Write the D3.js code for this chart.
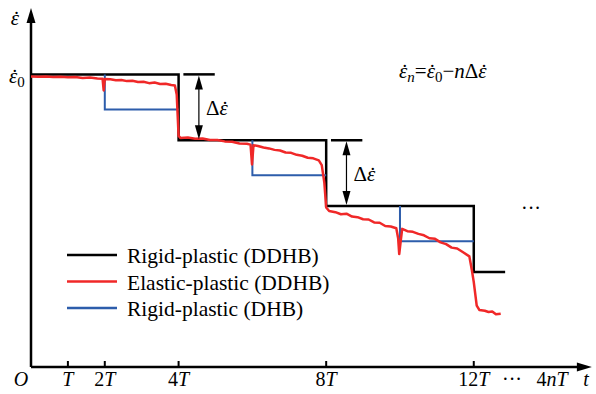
<!DOCTYPE html>
<html>
<head>
<meta charset="utf-8">
<script src="https://cdn.jsdelivr.net/npm/d3@7.9.0/dist/d3.min.js"></script>
<style>
  body { margin: 0; background: #fff; }
</style>
</head>
<body>
<svg id="chart" width="596" height="394"></svg>
<script>
// step times (in units of T) and strain-rate levels (eps0 = 10, delta = 2.25)
const stepStart = [0, 4, 8, 12];
const stepLevel = [10, 7.75, 5.5, 3.25];
const stepEnd = 12.85;

// rigid-plastic DHB: drop at 2T, 6T, 10T
const dhbStart = [2, 6, 10];
const dhbEnd = [4, 8, 12];
const dhbTop = [10, 7.75, 5.5];
const dhbLow = [8.8, 6.55, 4.3];

// elastic-plastic DDHB
const redT = [0, 0.2, 0.4, 0.6, 0.8, 1.0, 1.2, 1.4, 1.6, 1.8, 1.94, 1.97, 2.0,
  2.15, 2.3, 2.45, 2.6, 2.75, 2.9, 3.05, 3.2, 3.35, 3.5, 3.65, 3.8, 3.9, 3.95, 4.0, 4.05,
  4.25, 4.45, 4.65, 4.85, 5.05, 5.25, 5.45, 5.65, 5.85, 5.95, 5.99, 6.03, 6.15, 6.3, 6.45, 6.6, 6.75,
  6.9, 7.05, 7.2, 7.35, 7.5, 7.65, 7.8, 7.88, 7.95, 8.0, 8.08,
  8.25, 8.4, 8.55, 8.7, 8.85, 9.0, 9.15, 9.3, 9.45, 9.6, 9.75, 9.9, 9.95, 9.98, 10.02, 10.06,
  10.2, 10.35, 10.5, 10.65, 10.8, 10.95, 11.1, 11.25, 11.4, 11.55, 11.7, 11.88,
  11.95, 12.0, 12.08, 12.15, 12.3, 12.4, 12.5, 12.6, 12.73];
const redV = [9.93, 9.92, 9.93, 9.91, 9.92, 9.9, 9.91, 9.88, 9.89, 9.86, 9.85, 9.45, 9.84,
  9.83, 9.8, 9.81, 9.77, 9.78, 9.74, 9.75, 9.7, 9.72, 9.67, 9.68, 9.64, 9.62, 9.3, 7.9, 7.83,
  7.84, 7.8, 7.81, 7.76, 7.76, 7.71, 7.7, 7.64, 7.63, 7.6, 6.92, 7.58, 7.55, 7.5, 7.47, 7.42, 7.4,
  7.33, 7.32, 7.25, 7.22, 7.15, 7.13, 7.06, 6.9, 6.3, 5.45, 5.33,
  5.29, 5.22, 5.24, 5.14, 5.12, 5.05, 5.04, 4.94, 4.93, 4.82, 4.8, 4.74, 4.4, 3.86, 4.3, 4.72,
  4.64, 4.62, 4.55, 4.5, 4.4, 4.38, 4.26, 4.2, 4.08, 4.05, 3.93, 3.78,
  3.3, 2.9, 2.1, 1.95, 1.92, 1.88, 1.9, 1.8, 1.82];

const tickVals = [1, 2, 4, 8, 12];
const tickNum = ["", "2", "4", "8", "12"];
const legendNames = ["Rigid-plastic (DDHB)", "Elastic-plastic (DDHB)", "Rigid-plastic (DHB)"];
const colors = ["#000000", "#f02828", "#2d5dab"];

// pick the first serif face that is really installed
function pickFont() {
  const ctx = document.createElement("canvas").getContext("2d");
  const probe = "Rigid-plastic (DDHB) mmmWWiil";
  const w = f => { ctx.font = "20px " + f; return ctx.measureText(probe).width; };
  const base = w("monospace");
  const cands = ["Liberation Serif", "Times New Roman", "Tinos", "DejaVu Serif", "Noto Serif", "FreeSerif"];
  for (const c of cands) if (Math.abs(w(`'${c}', monospace`) - base) > 0.5) return `'${c}', serif`;
  return "serif";
}
const FONT = pickFont();

const svg = d3.select("#chart").attr("font-family", FONT);
const x = d3.scaleLinear().domain([0, 15.15]).range([31, 590]);
const y = d3.scaleLinear().domain([0, 12.2]).range([367, 10]);
const line = d3.line().x(d => x(d[0])).y(d => y(d[1]));

// put a dot over every epsilon of a text element
function dotEps(text) {
  const node = text.node();
  const s = node.textContent;
  for (let i = 0; i < s.length; i++) {
    if (s[i] !== "ε") continue;
    const a = node.getStartPositionOfChar(i), b = node.getEndPositionOfChar(i);
    svg.append("text")
      .attr("x", (a.x + b.x) / 2 + 1.5).attr("y", a.y + 1)
      .attr("text-anchor", "middle")
      .attr("font-size", text.attr("font-size"))
      .text("˙");
  }
}

// axes
svg.append("path").attr("d", line([[0, 0], [15.0, 0]])).attr("stroke", "#000").attr("stroke-width", 2.5).attr("fill", "none");
svg.append("path").attr("d", line([[0, 0], [0, 11.8]])).attr("stroke", "#000").attr("stroke-width", 2.5).attr("fill", "none");
svg.append("path")
  .attr("d", `M${x(15.2)},${y(0)} L${x(15.2) - 15},${y(0) - 4.5} L${x(15.2) - 15},${y(0) + 4.5} Z`);
svg.append("path")
  .attr("d", `M${x(0)},${y(12.2) - 2} L${x(0) - 4.5},${y(12.2) + 13} L${x(0) + 4.5},${y(12.2) + 13} Z`);

svg.selectAll(".tick").data(tickVals).join("line")
  .attr("x1", d => x(d)).attr("x2", d => x(d))
  .attr("y1", y(0)).attr("y2", y(0) - 6)
  .attr("stroke", "#000").attr("stroke-width", 2);

const tl = svg.selectAll(".tl").data(tickVals).join("text")
  .attr("x", d => x(d)).attr("y", 386)
  .attr("text-anchor", "middle").attr("font-size", 20);
tl.append("tspan").text((d, i) => tickNum[i]);
tl.append("tspan").attr("font-style", "italic").text("T");

svg.append("text").attr("x", 21).attr("y", 386).attr("text-anchor", "middle")
  .attr("font-size", 20).attr("font-style", "italic").text("O");
svg.append("text").attr("x", 512).attr("y", 386).attr("text-anchor", "middle")
  .attr("font-size", 20).text("···");
const nT = svg.append("text").attr("x", 552).attr("y", 386).attr("text-anchor", "middle").attr("font-size", 20);
nT.append("tspan").text("4");
nT.append("tspan").attr("font-style", "italic").text("nT");
svg.append("text").attr("x", 586).attr("y", 386).attr("text-anchor", "middle")
  .attr("font-size", 20).attr("font-style", "italic").text("t");

// y labels
const yl = svg.append("text").attr("x", 15).attr("y", 25).attr("text-anchor", "middle")
  .attr("font-size", 21).attr("font-style", "italic").text("ε");
dotEps(yl);
const e0 = svg.append("text").attr("x", 9).attr("y", 83).attr("font-size", 21);
e0.append("tspan").attr("font-style", "italic").text("ε");
e0.append("tspan").attr("font-size", 15).attr("dy", 4).text("0");
dotEps(e0);

// rigid-plastic DDHB
const stepPts = stepStart.map((t, i) => [t, stepLevel[i]]).concat([[stepEnd, stepLevel[3]]]);
svg.append("path")
  .attr("d", d3.line().x(d => x(d[0])).y(d => y(d[1])).curve(d3.curveStepAfter)(stepPts))
  .attr("fill", "none").attr("stroke", colors[0]).attr("stroke-width", 2.5);

// rigid-plastic DHB
svg.selectAll(".dhb").data(dhbStart).join("path")
  .attr("d", (d, i) => line([[d, dhbTop[i]], [d, dhbLow[i]], [dhbEnd[i], dhbLow[i]]]))
  .attr("fill", "none").attr("stroke", colors[2]).attr("stroke-width", 2);

// elastic-plastic DDHB
svg.append("path")
  .attr("d", line(redT.map((t, i) => [t, redV[i]])))
  .attr("fill", "none").attr("stroke", colors[1]).attr("stroke-width", 2.5)
  .attr("stroke-linejoin", "round");

// delta annotations
[0, 1].forEach(k => {
  const t0 = stepStart[k + 1] + 0.13, t1 = t0 + 0.85, ta = t0 + 0.42;
  const top = y(stepLevel[k]), bot = y(stepLevel[k + 1]);
  svg.append("line").attr("x1", x(t0)).attr("x2", x(t1)).attr("y1", top).attr("y2", top)
    .attr("stroke", "#000").attr("stroke-width", 2.5);
  svg.append("line").attr("x1", x(ta)).attr("x2", x(ta)).attr("y1", top + 8).attr("y2", bot - 8)
    .attr("stroke", "#000").attr("stroke-width", 1.2);
  svg.append("path").attr("d", `M${x(ta)},${top + 1} L${x(ta) - 4},${top + 15} L${x(ta) + 4},${top + 15} Z`);
  svg.append("path").attr("d", `M${x(ta)},${bot - 1} L${x(ta) - 4},${bot - 15} L${x(ta) + 4},${bot - 15} Z`);
  const lab = svg.append("text").attr("x", x(ta) + 7).attr("y", (top + bot) / 2 + 8).attr("font-size", 21);
  lab.append("tspan").text("Δ");
  lab.append("tspan").attr("font-style", "italic").text("ε");
  dotEps(lab);
});

// formula
const f = svg.append("text").attr("x", 399).attr("y", 78).attr("font-size", 21);
f.append("tspan").attr("font-style", "italic").text("ε");
f.append("tspan").attr("font-style", "italic").attr("font-size", 15).attr("dy", 4).text("n");
f.append("tspan").attr("dy", -4).text("=");
f.append("tspan").attr("font-style", "italic").text("ε");
f.append("tspan").attr("font-size", 15).attr("dy", 4).text("0");
f.append("tspan").attr("dy", -4).text("−");
f.append("tspan").attr("font-style", "italic").text("n");
f.append("tspan").text("Δ");
f.append("tspan").attr("font-style", "italic").text("ε");
dotEps(f);

svg.append("text").attr("x", 531).attr("y", 215).attr("text-anchor", "middle")
  .attr("font-size", 20).text("···");

// legend
const lg = svg.selectAll(".lg").data(legendNames).join("g")
  .attr("transform", (d, i) => `translate(67,${255 + i * 26.5})`);
lg.append("line").attr("x1", 0).attr("x2", 50).attr("stroke", (d, i) => colors[i]).attr("stroke-width", 2.5);
lg.append("text").attr("x", 60).attr("y", 8).attr("font-size", 21.5).text(d => d);
</script>
</body>
</html>
